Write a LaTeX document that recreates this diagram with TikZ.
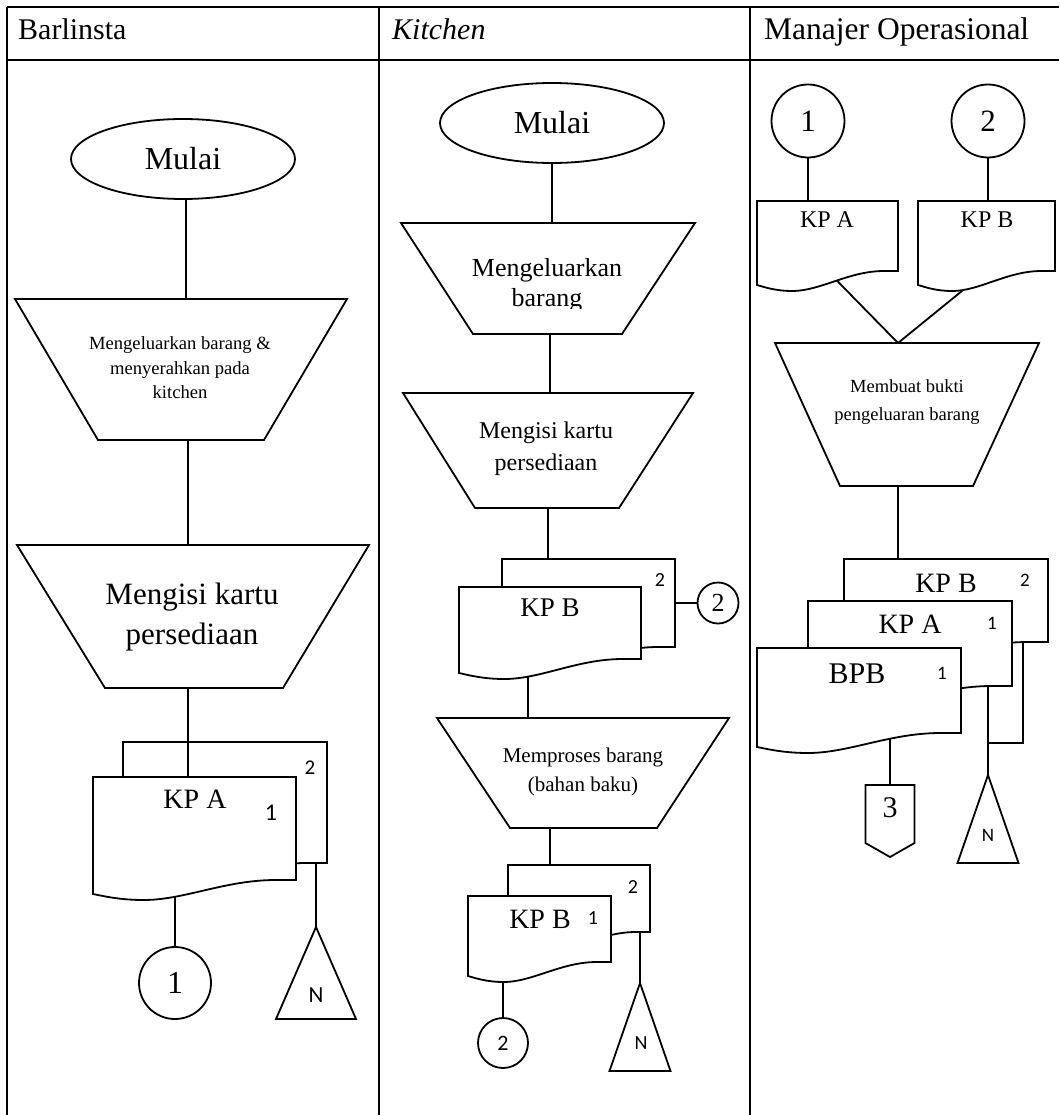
\documentclass[tikz,border=0pt]{standalone}
\usepackage{fontspec}
\setmainfont{Liberation Serif}
\newfontfamily\numfont{Carlito}
\usetikzlibrary{shapes.geometric,backgrounds}

\newcommand\fsz[2]{\fontsize{#1pt}{#2pt}\selectfont}

\tikzset{
  flow/.style={line width=1.8pt, line join=miter},
  frame/.style={line width=2.8pt},
  box/.style={inner sep=0pt, outer sep=0pt, draw=none},
  txt/.style={inner sep=0pt, align=center},
  terminal/.style={ellipse, draw, flow, inner sep=0pt, minimum width=224, minimum height=80, font=\fsz{32}{36}},
  conn/.style={circle, draw, flow, inner sep=0pt},
  headtxt/.style={anchor=base west, inner sep=0pt},
}

% document sheet: name, left, top, right, bottom of right edge
\newcommand\docsheet[5]{%
  \node[box, minimum width={(#4)-(#2)}, minimum height={(#5)-(#3)}, anchor=north west] (#1) at (#2,#3) {};
  \pgfmathsetmacro\docw{(#4)-(#2)}%
  \draw[flow, fill=white]
    (#1.north west) -- (#1.north east) -- (#1.south east)
    -- ([xshift={-0.1*\docw}]#1.south east)
    .. controls ([xshift={-0.35*\docw}]#1.south east) and ([xshift={0.45*\docw}, yshift=-20]#1.south west)
    .. ([xshift={0.25*\docw}, yshift=-20]#1.south west)
    .. controls ([xshift={0.13*\docw}, yshift=-20]#1.south west) and ([xshift={0.05*\docw}, yshift=-16]#1.south west)
    .. ([yshift=-14]#1.south west) -- cycle;
}

% manual operation: name, top y, bottom y, top-left x, top-right x, bottom-left x, bottom-right x
\newcommand\manualop[7]{%
  \node[box, minimum width={(#5)-(#4)}, minimum height={(#3)-(#2)}] (#1) at ({((#4)+(#5))/2},{((#2)+(#3))/2}) {};
  \draw[flow] (#4,#2) -- (#5,#2) -- (#7,#3) -- (#6,#3) -- cycle;
}

% file (archive) mark: name, x, apex y, base y, half base width
\newcommand\filemark[5]{%
  \node[box, minimum width={2*(#5)}, minimum height={(#4)-(#3)}] (#1) at (#2,{((#3)+(#4))/2}) {};
  \draw[flow] (#1.north) -- (#1.south east) -- (#1.south west) -- cycle;
}

% off-page connector: name, x, top y, side bottom y, half width
\newcommand\offpage[5]{%
  \node[box, minimum width={2*(#5)}, minimum height={(#4)-(#3)}] (#1) at (#2,{((#3)+(#4))/2}) {};
  \draw[flow] (#1.north west) -- (#1.north east) -- (#1.south east) -- ([yshift=-14]#1.south) -- (#1.south west) -- cycle;
}

\begin{document}
\begin{tikzpicture}[x=1pt, y=-1pt]
\useasboundingbox (0,0) rectangle (1059,1115);

% ---------- table frame ----------
\draw[frame] (7,7) -- (1059,7);
\draw[frame] (7,60) -- (1059,60);
\draw[frame] (7,7) -- (7,1115);
\draw[frame] (379,7) -- (379,1115);
\draw[frame] (750,7) -- (750,1115);

\node[headtxt, font=\fsz{30}{34}] (h1) at (18,40) {Barlinsta};
\node[headtxt, font=\fsz{30}{34}\itshape] (h2) at (392,40) {Kitchen};
\node[headtxt, font=\fsz{31.5}{36}] (h3) at (764,40) {Manajer Operasional};

% ---------- Barlinsta ----------
\node[terminal] (e1) at (183,159) {Mulai};
\manualop{t11}{299}{440}{15}{347}{98}{264}
\node[txt, font=\fsz{18.6}{24.5}] (t11-txt) at (180,368) {Mengeluarkan barang \&\\menyerahkan pada\\kitchen};
\manualop{t12}{545}{688}{17}{369}{105}{283}
\node[txt, font=\fsz{31}{40}] (t12-txt) at (192,617) {Mengisi kartu\\persediaan};

\docsheet{kpa1b}{123}{742}{327}{863}
\node[txt, font=\numfont\fsz{21}{24}] (kpa1b-no) at (310,768) {2};
\draw[flow] ([xshift=-5]t12.south) -- ([xshift=-5]t12.south |- kpa1b.north);
\docsheet{kpa1f}{93}{777}{296}{880}
\draw[flow] ([xshift=-5]t12.south |- kpa1b.north) -- ([xshift=-5]t12.south |- kpa1f.north);
\node[txt, font=\fsz{28}{32}] (kpa1f-txt) at (195,799) {KP A};
\node[txt, font=\numfont\fsz{24}{26}] (kpa1f-no) at (271,813) {1};

\node[conn, minimum size=72, font=\fsz{32}{36}] (c11) at (175,983) {1};
\filemark{n1}{316}{927}{1019}{40}
\node[txt, font=\numfont\fsz{23}{26}] (n1-txt) at (316,995) {N};

\draw[flow] ([xshift=3]e1.south) -- ([xshift=3]e1.south |- t11.north);
\draw[flow] ([xshift=7]t11.south) -- ([xshift=7]t11.south |- t12.north);

% ---------- Kitchen ----------
\node[terminal] (e2) at (552,123) {Mulai};
\manualop{t21}{223}{334}{401}{695}{473}{622}
\begin{scope}
  \clip (405,235) rectangle (690,308);
  \node[txt, font=\fsz{26}{30}] (t21-txt) at (547,285) {Mengeluarkan\\barang};
\end{scope}
\manualop{t22}{393}{508}{403}{693}{475}{619}
\node[txt, font=\fsz{24}{32}] (t22-txt) at (546,449) {Mengisi kartu\\persediaan};

\docsheet{kpb2b}{502}{559}{675}{647}
\node[txt, font=\numfont\fsz{20}{24}] (kpb2b-no) at (660,580) {2};
\docsheet{kpb2f}{459}{587}{641}{659}
\node[txt, font=\fsz{27}{32}] (kpb2f-txt) at (550,608) {KP B};
\node[conn, minimum size=41, font=\fsz{26}{30}] (c22) at (718,603) {2};

\manualop{t23}{718}{828}{437}{729}{510}{657}
\node[txt, font=\fsz{21}{29}] (t23-txt) at (583,772) {Memproses barang\\(bahan baku)};

\docsheet{kpb3b}{508}{865}{650}{932}
\node[txt, font=\numfont\fsz{20}{24}] (kpb3b-no) at (633,887) {2};
\docsheet{kpb3f}{468}{896}{611}{962}
\node[txt, font=\fsz{28}{32}] (kpb3f-txt) at (540,919) {KP B};
\node[txt, font=\numfont\fsz{20}{24}] (kpb3f-no) at (593,918) {1};

\node[conn, minimum size=50, font=\numfont\fsz{22}{26}] (c23) at (503,1043) {2};
\filemark{n2}{640}{983}{1071}{30.5}
\node[txt, font=\numfont\fsz{20}{24}] (n2-txt) at (641,1043) {N};

\draw[flow] (e2.south) -- (e2.south |- t21.north);
\draw[flow] ([xshift=2]t21.south) -- ([xshift=2]t21.south |- t22.north);
\draw[flow] (t22.south) -- (t22.south |- kpb2b.north);
\draw[flow] (kpb2b.east) -- (c22.west);
\draw[flow] ([xshift=-33]t23.south) -- ([xshift=-33]t23.south |- kpb3b.north);

% ---------- Manajer Operasional ----------
\node[conn, minimum size=73, font=\fsz{31}{36}] (c31) at (808,121) {1};
\node[conn, minimum size=73, font=\fsz{31}{36}] (c32) at (988,121) {2};

\docsheet{kpa4}{757}{201}{898}{271}
\node[txt, font=\fsz{24}{28}] (kpa4-txt) at (827,220) {KP A};
\docsheet{kpb4}{918}{201}{1055}{271}
\node[txt, font=\fsz{24}{28}] (kpb4-txt) at (987,220) {KP B};

\manualop{t31}{343}{486}{775}{1039}{840}{973}
\node[txt, font=\fsz{18.5}{27.5}] (t31-txt) at (907,402) {Membuat bukti\\pengeluaran barang};

\docsheet{kpb5}{844}{559}{1048}{642}
\node[txt, font=\fsz{28}{32}] (kpb5-txt) at (946,583) {KP B};
\node[txt, font=\numfont\fsz{19}{24}] (kpb5-no) at (1025,580) {2};
\docsheet{kpa5}{808}{601}{1012}{686}
\node[txt, font=\fsz{28}{32}] (kpa5-txt) at (910,624) {KP A};
\node[txt, font=\numfont\fsz{19}{24}] (kpa5-no) at (992,623) {1};
\docsheet{bpb}{757}{648}{961}{733}
\node[txt, font=\fsz{30}{34}] (bpb-txt) at (857,674) {BPB};
\node[txt, font=\numfont\fsz{19}{24}] (bpb-no) at (942,673) {1};

\offpage{off3}{890}{785}{843}{24.5}
\node[txt, font=\fsz{30}{34}] (off3-txt) at (890,808) {3};
\filemark{n3}{988}{775}{863}{30.5}
\node[txt, font=\numfont\fsz{19}{24}] (n3-txt) at (988,835) {N};
\coordinate (j3) at (988,743);

\draw[flow] (c31.south) -- (c31.south |- kpa4.north);
\draw[flow] (c32.south) -- (c32.south |- kpb4.north);
\draw[flow] ([xshift=-9]t31.south) -- ([xshift=-9]t31.south |- kpb5.north);

% ---------- links leaving the lower edge of documents ----------
\begin{pgfonlayer}{background}
  \fill[white] (0,0) rectangle (1059,1115);
  \draw[flow] (c11.north) -- (c11.north |- kpa1f.south);
  \draw[flow] (n1.north) -- (n1.north |- kpa1b.south);
  \draw[flow] ([xshift=-55]t23.north) -- ([xshift=-55]t23.north |- kpb2f.south);
  \draw[flow] (c23.north) -- (c23.north |- kpb3f.south);
  \draw[flow] (n2.north) -- (n2.north |- kpb3b.south);
  \draw[flow] (kpa4.south) -- ([xshift=-9]t31.north);
  \draw[flow] (kpb4.south) -- ([xshift=-9]t31.north);
  \draw[flow] (off3.north) -- (off3.north |- bpb.south);
  \draw[flow] (n3.north) -- (n3.north |- kpa5.south);
  \draw[flow] ([xshift=77]kpb5.south) |- (j3);
\end{pgfonlayer}
\end{tikzpicture}
\end{document}
